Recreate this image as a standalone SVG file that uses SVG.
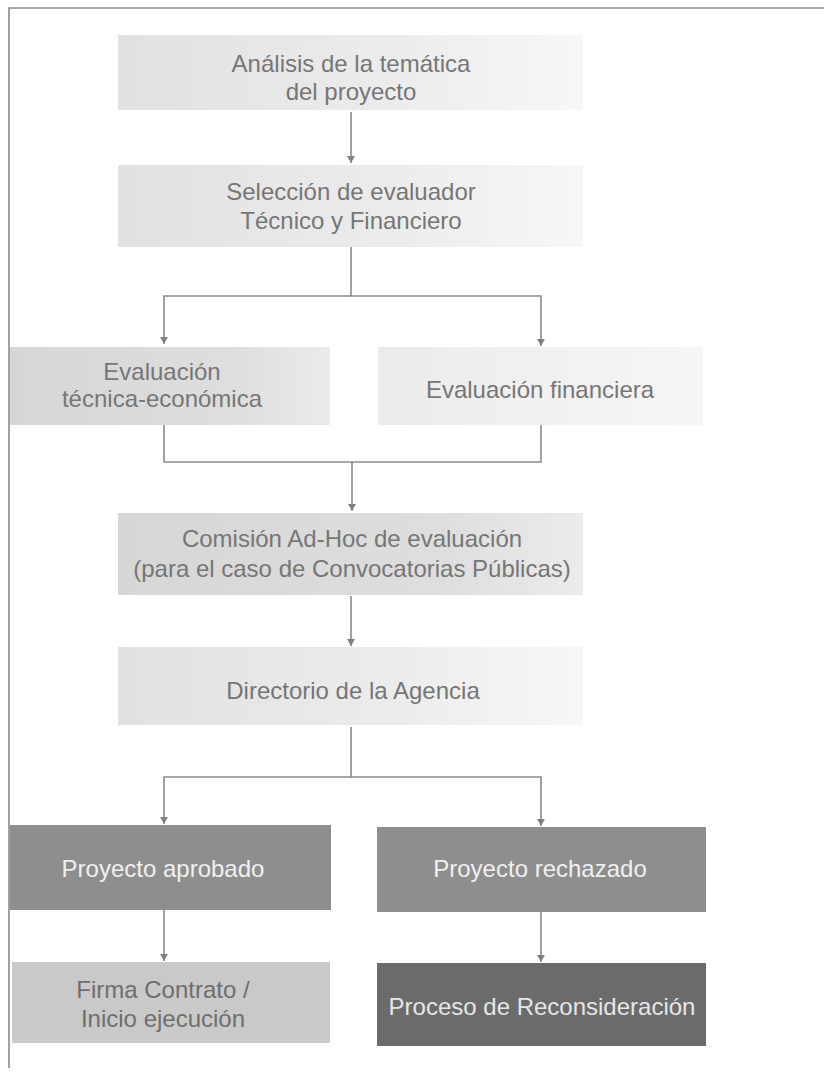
<svg xmlns="http://www.w3.org/2000/svg" width="824" height="1074" viewBox="0 0 824 1074">
<style>
  .t { font-family: "Liberation Sans", Arial, sans-serif; font-size: 24px; text-anchor: middle; }
  .dk { fill: #767676; }
  .lt { fill: #f0f0f0; }
  .conn { fill: none; stroke: #8a8a8a; stroke-width: 1.6; }
  .frame { fill: none; stroke: #8a8a8a; stroke-width: 1.6; }
</style>
<defs>
  <marker id="arr" viewBox="0 0 8 12" refX="8" refY="6" markerWidth="7" markerHeight="11" markerUnits="userSpaceOnUse" orient="auto">
    <path d="M0,1.5 L8,6 L0,10.5 z" fill="#808080"/>
  </marker>
  <linearGradient id="gLight" x1="0" y1="0" x2="1" y2="0">
    <stop offset="0" stop-color="#e1e1e1"/>
    <stop offset="0.6" stop-color="#ececec"/>
    <stop offset="1" stop-color="#f7f7f7"/>
  </linearGradient>
  <linearGradient id="gMid" x1="0" y1="0" x2="1" y2="0">
    <stop offset="0" stop-color="#d6d6d6"/>
    <stop offset="0.7" stop-color="#dedede"/>
    <stop offset="1" stop-color="#ebebeb"/>
  </linearGradient>
  <linearGradient id="gSparse" x1="0" y1="0" x2="1" y2="0">
    <stop offset="0" stop-color="#ebebeb"/>
    <stop offset="1" stop-color="#f6f6f6"/>
  </linearGradient>
</defs>

<path class="frame" d="M9,1068 V8 H824"/>

<g id="connectors">
  <path class="conn" d="M351,112 V163" marker-end="url(#arr)"/>
  <path class="conn" d="M351,247 V296 H164 V344" marker-end="url(#arr)"/>
  <path class="conn" d="M351,296 H541 V346" marker-end="url(#arr)"/>
  <path class="conn" d="M164,425 V462 H541 V425"/>
  <path class="conn" d="M352,462 V511" marker-end="url(#arr)"/>
  <path class="conn" d="M351,596 V646" marker-end="url(#arr)"/>
  <path class="conn" d="M351,727 V777 H164 V824" marker-end="url(#arr)"/>
  <path class="conn" d="M351,777 H541 V826" marker-end="url(#arr)"/>
  <path class="conn" d="M164,910 V961" marker-end="url(#arr)"/>
  <path class="conn" d="M541,912 V962" marker-end="url(#arr)"/>
</g>

<g id="n1">
  <rect x="118" y="35" width="465" height="75" fill="url(#gLight)"/>
  <text class="t dk" x="351" y="72">Análisis de la temática</text>
  <text class="t dk" x="351" y="100">del proyecto</text>
</g>

<g id="n2">
  <rect x="118" y="165" width="465" height="82" fill="url(#gLight)"/>
  <text class="t dk" x="351" y="200">Selección de evaluador</text>
  <text class="t dk" x="351" y="229">Técnico y Financiero</text>
</g>

<g id="n3">
  <rect x="10" y="347" width="320" height="78" fill="url(#gMid)"/>
  <text class="t dk" x="162" y="380">Evaluación</text>
  <text class="t dk" x="162" y="407">técnica-económica</text>
</g>

<g id="n4">
  <rect x="378" y="347" width="325" height="78" fill="url(#gSparse)"/>
  <text class="t dk" x="540" y="398">Evaluación financiera</text>
</g>

<g id="n5">
  <rect x="118" y="513" width="465" height="82" fill="url(#gMid)"/>
  <text class="t dk" x="352" y="547">Comisión Ad-Hoc de evaluación</text>
  <text class="t dk" x="352" y="577">(para el caso de Convocatorias Públicas)</text>
</g>

<g id="n6">
  <rect x="118" y="647" width="465" height="78" fill="url(#gLight)"/>
  <text class="t dk" x="353" y="699">Directorio de la Agencia</text>
</g>

<g id="n7">
  <rect x="10" y="825" width="321" height="85" fill="#8e8e8e"/>
  <text class="t lt" x="163" y="877">Proyecto aprobado</text>
</g>

<g id="n8">
  <rect x="377" y="827" width="329" height="85" fill="#8e8e8e"/>
  <text class="t lt" x="540" y="877">Proyecto rechazado</text>
</g>

<g id="n9">
  <rect x="12" y="962" width="318" height="81" fill="#c9c9c9"/>
  <text class="t" x="163" y="998" fill="#6e6e6e">Firma Contrato /</text>
  <text class="t" x="163" y="1027" fill="#6e6e6e">Inicio ejecución</text>
</g>

<g id="n10">
  <rect x="377" y="963" width="329" height="83" fill="#6b6b6b"/>
  <text class="t" x="542" y="1015" fill="#e6e6e6">Proceso de Reconsideración</text>
</g>
</svg>
